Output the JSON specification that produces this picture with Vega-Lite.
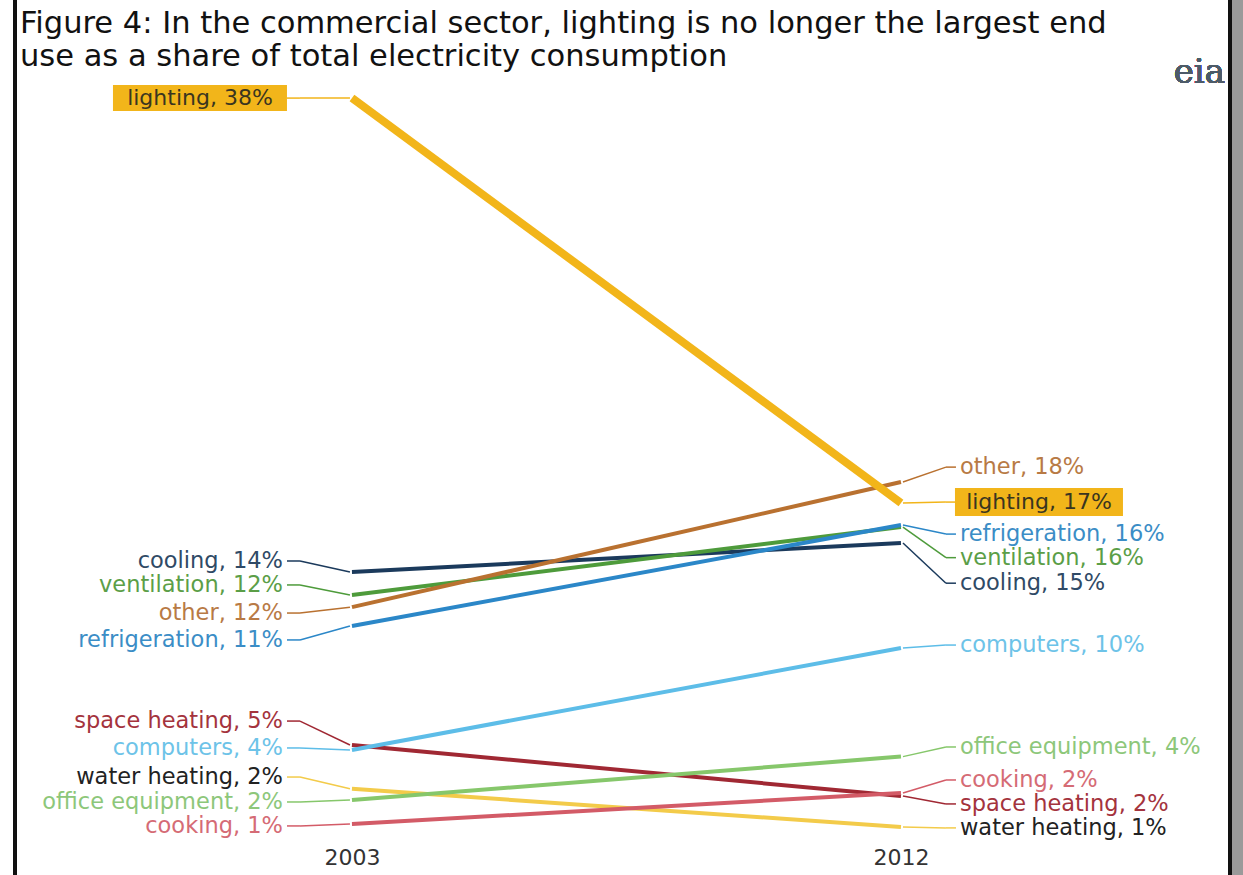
{
  "$schema": "https://vega.github.io/schema/vega-lite/v6.json",
  "width": 1243,
  "height": 875,
  "autosize": {"type": "none"},
  "padding": 0,
  "background": "white",
  "config": {"view": {"stroke": null}},
  "title": {
    "text": ["Figure 4: In the commercial sector, lighting is no longer the largest end", "use as a share of total electricity consumption"],
    "anchor": "start",
    "frame": "group",
    "orient": "top",
    "font": "DejaVu Sans",
    "fontSize": 30.5,
    "fontWeight": "normal",
    "color": "#111111",
    "lineHeight": 33,
    "dx": 20,
    "dy": 82
  },
  "data": {"values": [
    {"use": "lighting", "year": 2003, "value": 38.0, "labelValue": 38.0, "label": "lighting, 38%"},
    {"use": "cooling", "year": 2003, "value": 13.87, "labelValue": 14.43, "label": "cooling, 14%"},
    {"use": "ventilation", "year": 2003, "value": 12.70, "labelValue": 13.21, "label": "ventilation, 12%"},
    {"use": "other", "year": 2003, "value": 12.08, "labelValue": 11.78, "label": "other, 12%"},
    {"use": "refrigeration", "year": 2003, "value": 11.12, "labelValue": 10.41, "label": "refrigeration, 11%"},
    {"use": "space heating", "year": 2003, "value": 5.06, "labelValue": 6.28, "label": "space heating, 5%"},
    {"use": "computers", "year": 2003, "value": 4.81, "labelValue": 4.91, "label": "computers, 4%"},
    {"use": "water heating", "year": 2003, "value": 2.83, "labelValue": 3.43, "label": "water heating, 2%"},
    {"use": "office equipment", "year": 2003, "value": 2.26, "labelValue": 2.16, "label": "office equipment, 2%"},
    {"use": "cooking", "year": 2003, "value": 1.04, "labelValue": 0.94, "label": "cooking, 1%"},
    {"use": "lighting", "year": 2012, "value": 17.38, "labelValue": 17.43, "label": "lighting, 17%"},
    {"use": "other", "year": 2012, "value": 18.45, "labelValue": 19.21, "label": "other, 18%"},
    {"use": "ventilation", "year": 2012, "value": 16.16, "labelValue": 14.6, "label": "ventilation, 16%"},
    {"use": "refrigeration", "year": 2012, "value": 16.26, "labelValue": 15.8, "label": "refrigeration, 16%"},
    {"use": "cooling", "year": 2012, "value": 15.35, "labelValue": 13.3, "label": "cooling, 15%"},
    {"use": "computers", "year": 2012, "value": 10.0, "labelValue": 10.15, "label": "computers, 10%"},
    {"use": "office equipment", "year": 2012, "value": 4.47, "labelValue": 4.96, "label": "office equipment, 4%"},
    {"use": "cooking", "year": 2012, "value": 2.62, "labelValue": 3.28, "label": "cooking, 2%"},
    {"use": "space heating", "year": 2012, "value": 2.46, "labelValue": 2.06, "label": "space heating, 2%"},
    {"use": "water heating", "year": 2012, "value": 0.89, "labelValue": 0.84, "label": "water heating, 1%"}
  ]},
  "encoding": {
    "x": {"field": "year", "type": "quantitative",
      "scale": {"domain": [1997.23, 2017.607], "nice": false, "zero": false},
      "axis": {"values": [2003, 2012], "format": "d", "title": null, "grid": false, "ticks": false, "domain": false,
        "labelFont": "DejaVu Sans", "labelFontSize": 22, "labelColor": "#333333", "labelPadding": 8, "offset": -36}}
  },
  "layer": [
    {
      "transform": [{"filter": "datum.use !== 'lighting'"}],
      "mark": {"type": "line", "strokeWidth": 4, "strokeCap": "butt"},
      "encoding": {
        "y": {"field": "value", "type": "quantitative", "scale": {"domain": [-1.558, 42.994], "nice": false, "zero": false}, "axis": null},
        "stroke": {"field": "use", "type": "nominal", "legend": null,
          "scale": {"domain": ["lighting", "cooling", "ventilation", "other", "refrigeration", "computers", "space heating", "water heating", "office equipment", "cooking"],
            "range": ["#F2B51A", "#1B3A5C", "#4E9B3B", "#B97130", "#2B87C8", "#5DBDE8", "#A02833", "#F3CB4A", "#86C76B", "#D35B67"]}},
        "detail": {"field": "use"}
      }
    },
    {
      "transform": [{"filter": "datum.year === 2003"}],
      "mark": {"type": "rule", "strokeWidth": 1.5, "xOffset": -65, "x2Offset": -52},
      "encoding": {
        "x2": {"field": "year"},
        "y": {"field": "labelValue", "type": "quantitative"},
        "y2": {"field": "labelValue"},
        "stroke": {"field": "use", "type": "nominal", "legend": null}
      }
    },
    {
      "transform": [{"filter": "datum.year === 2003"}],
      "mark": {"type": "rule", "strokeWidth": 1.5, "xOffset": -52, "x2Offset": -2},
      "encoding": {
        "x2": {"field": "year"},
        "y": {"field": "labelValue", "type": "quantitative"},
        "y2": {"field": "value"},
        "stroke": {"field": "use", "type": "nominal", "legend": null}
      }
    },
    {
      "transform": [{"filter": "datum.year === 2012"}],
      "mark": {"type": "rule", "strokeWidth": 1.5, "xOffset": 2, "x2Offset": 45},
      "encoding": {
        "x2": {"field": "year"},
        "y": {"field": "value", "type": "quantitative"},
        "y2": {"field": "labelValue"},
        "stroke": {"field": "use", "type": "nominal", "legend": null}
      }
    },
    {
      "transform": [{"filter": "datum.year === 2012"}],
      "mark": {"type": "rule", "strokeWidth": 1.5, "xOffset": 45, "x2Offset": 55},
      "encoding": {
        "x2": {"field": "year"},
        "y": {"field": "labelValue", "type": "quantitative"},
        "y2": {"field": "labelValue"},
        "stroke": {"field": "use", "type": "nominal", "legend": null}
      }
    },
    {
      "transform": [{"filter": "datum.use === 'lighting'"}],
      "mark": {"type": "line", "strokeWidth": 8, "strokeCap": "butt", "stroke": "#F2B51A"},
      "encoding": {
        "y": {"field": "value", "type": "quantitative"}
      }
    },
    {
      "transform": [{"filter": "datum.use === 'lighting' && datum.year === 2003"}],
      "mark": {"type": "rect", "fill": "#F2B51A", "xOffset": -239, "x2Offset": -65, "yOffset": -13, "y2Offset": 13},
      "encoding": {
        "x2": {"field": "year"},
        "y": {"field": "labelValue", "type": "quantitative"},
        "y2": {"field": "labelValue"}
      }
    },
    {
      "transform": [{"filter": "datum.use === 'lighting' && datum.year === 2012"}],
      "mark": {"type": "rect", "fill": "#F2B51A", "xOffset": 54, "x2Offset": 222, "yOffset": -14, "y2Offset": 14},
      "encoding": {
        "x2": {"field": "year"},
        "y": {"field": "labelValue", "type": "quantitative"},
        "y2": {"field": "labelValue"}
      }
    },
    {
      "transform": [{"filter": "datum.use === 'lighting' && datum.year === 2003"}],
      "mark": {"type": "text", "font": "DejaVu Sans", "fontSize": 22, "align": "center", "baseline": "middle", "xOffset": -152, "fill": "#3a3520"},
      "encoding": {
        "y": {"field": "labelValue", "type": "quantitative"},
        "text": {"field": "label"}
      }
    },
    {
      "transform": [{"filter": "datum.use === 'lighting' && datum.year === 2012"}],
      "mark": {"type": "text", "font": "DejaVu Sans", "fontSize": 22, "align": "center", "baseline": "middle", "xOffset": 138, "fill": "#3a3520"},
      "encoding": {
        "y": {"field": "labelValue", "type": "quantitative"},
        "text": {"field": "label"}
      }
    },
    {
      "transform": [{"filter": "datum.use !== 'lighting' && datum.year === 2003"}],
      "mark": {"type": "text", "font": "DejaVu Sans", "fontSize": 22.5, "align": "right", "baseline": "middle", "xOffset": -69},
      "encoding": {
        "y": {"field": "labelValue", "type": "quantitative"},
        "text": {"field": "label"},
        "fill": {"field": "use", "type": "nominal", "legend": null,
          "scale": {"domain": ["lighting", "cooling", "ventilation", "other", "refrigeration", "computers", "space heating", "water heating", "office equipment", "cooking"],
            "range": ["#3a3520", "#2F4A66", "#5B9E47", "#B87A45", "#3B8DC6", "#6DC3E8", "#A4333D", "#222222", "#8DC77A", "#D56B75"]}}
      }
    },
    {
      "transform": [{"filter": "datum.use !== 'lighting' && datum.year === 2012"}],
      "mark": {"type": "text", "font": "DejaVu Sans", "fontSize": 22.5, "align": "left", "baseline": "middle", "xOffset": 59},
      "encoding": {
        "y": {"field": "labelValue", "type": "quantitative"},
        "text": {"field": "label"},
        "fill": {"field": "use", "type": "nominal", "legend": null}
      }
    },
    {
      "mark": {"type": "text", "font": "DejaVu Serif", "fontSize": 34, "align": "center", "baseline": "middle", "fill": "#4d5b68"},
      "encoding": {
        "x": {"datum": 2016.89},
        "y": {"datum": 39.3},
        "text": {"value": "eia"}
      }
    },
    {
      "mark": {"type": "rule", "stroke": "#9a9a9a", "strokeWidth": 12},
      "encoding": {"x": {"datum": 2017.51}}
    },
    {
      "mark": {"type": "rule", "stroke": "#111111", "strokeWidth": 3},
      "encoding": {"x": {"datum": 2017.394}}
    },
    {
      "mark": {"type": "rule", "stroke": "#111111", "strokeWidth": 2.5},
      "encoding": {"x": {"datum": 1997.476}}
    }
  ]
}
